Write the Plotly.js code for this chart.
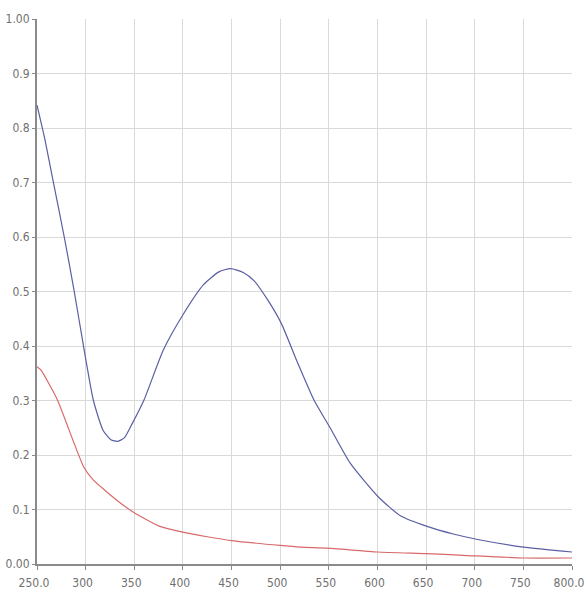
<!DOCTYPE html>
<html>
<head>
<meta charset="utf-8">
<script src="https://cdn.plot.ly/plotly-3.0.1.min.js"></script>
<style>
html,body{margin:0;padding:0;background:#fff;}
#chart{width:585px;height:596px;}
#chart .xtick text, #chart .ytick text{font-stretch:condensed !important;}
</style>
</head>
<body>
<div id="chart"></div>
<script>
// Wavelength (nm) and absorbance values
const blueX = [250, 258, 267, 278, 288, 298, 308, 318, 326, 333, 340, 348, 360, 380, 401, 421, 437, 449, 462, 473, 487, 501, 518, 535, 551, 572, 601, 624, 651, 678, 703, 750, 800];
const blueY = [0.842, 0.78, 0.699, 0.6, 0.503, 0.398, 0.3, 0.245, 0.228, 0.225, 0.232, 0.258, 0.301, 0.393, 0.46, 0.512, 0.536, 0.542, 0.535, 0.52, 0.485, 0.442, 0.369, 0.3, 0.251, 0.185, 0.123, 0.088, 0.069, 0.055, 0.045, 0.031, 0.022];
const redX = [250, 254, 271, 298, 308, 320, 335, 350, 375, 401, 425, 450, 500, 521, 549, 600, 650, 688, 750, 800];
const redY = [0.362, 0.356, 0.301, 0.178, 0.154, 0.135, 0.113, 0.094, 0.07, 0.058, 0.05, 0.043, 0.034, 0.031, 0.029, 0.022, 0.019, 0.016, 0.011, 0.011];

const xTickVals = [250, 300, 350, 400, 450, 500, 550, 600, 650, 700, 750, 800];
const xTickText = ["250.0", "300", "350", "400", "450", "500", "550", "600", "650", "700", "750", "800.0"];
const yTickVals = [0, 0.1, 0.2, 0.3, 0.4, 0.5, 0.6, 0.7, 0.8, 0.9, 1.0];
const yTickText = ["0.00", "0.1", "0.2", "0.3", "0.4", "0.5", "0.6", "0.7", "0.8", "0.9", "1.00"];

const traces = [
  {x: blueX, y: blueY, mode: "lines", line: {color: "#5b5fa3", width: 1.2, shape: "spline", smoothing: 0.6}, hoverinfo: "skip"},
  {x: redX, y: redY, mode: "lines", line: {color: "#d86a6a", width: 1.2, shape: "spline", smoothing: 0.5}, hoverinfo: "skip"}
];

const tickFont = {family: "Liberation Sans Narrow, DejaVu Sans, sans-serif", size: 12, color: "#707070"};

const layout = {
  width: 585, height: 596,
  margin: {l: 37, r: 13, t: 19, b: 32},
  paper_bgcolor: "#fff", plot_bgcolor: "#fff",
  showlegend: false,
  xaxis: {
    range: [250, 800], tickmode: "array", tickvals: xTickVals, ticktext: xTickText,
    showgrid: true, gridcolor: "#d9d9d9", gridwidth: 1,
    showline: true, linecolor: "#8a8a8a", linewidth: 2,
    ticks: "outside", ticklen: 4, tickcolor: "#8a8a8a",
    tickfont: tickFont, zeroline: false, fixedrange: true,
    ticklabeloverflow: "allow", ticklabelstandoff: 3, ticklabelshift: -3
  },
  yaxis: {
    range: [0, 1.0], tickmode: "array", tickvals: yTickVals, ticktext: yTickText,
    showgrid: true, gridcolor: "#d9d9d9", gridwidth: 1,
    showline: true, linecolor: "#8a8a8a", linewidth: 2,
    ticks: "outside", ticklen: 3, tickcolor: "#8a8a8a",
    tickfont: tickFont, zeroline: false, fixedrange: true,
    ticklabeloverflow: "allow"
  }
};

Plotly.newPlot("chart", traces, layout, {displayModeBar: false, staticPlot: true});
</script>
</body>
</html>
